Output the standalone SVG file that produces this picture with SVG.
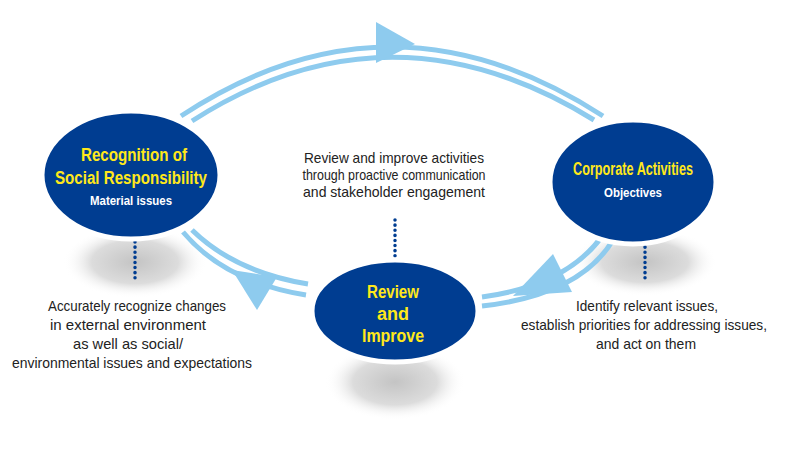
<svg xmlns="http://www.w3.org/2000/svg" width="789" height="455" viewBox="0 0 789 455">
<defs>
<radialGradient id="sh" cx="0.5" cy="0.5" r="0.5"><stop offset="0" stop-color="#c4c4c4"/><stop offset="0.6" stop-color="#dcdcdc"/><stop offset="1" stop-color="#fff" stop-opacity="0"/></radialGradient>
</defs>
<style>
.arc{fill:none;stroke:#8ecbee;stroke-width:5}
.head{fill:#8ecbee}
.node{fill:#003d91;stroke:#fff;stroke-width:5}
.t{font-family:"Liberation Sans",sans-serif;font-weight:bold;fill:#ffe81a;text-anchor:middle}
.s{font-family:"Liberation Sans",sans-serif;font-weight:bold;fill:#fff;text-anchor:middle;font-size:13px}
.d{font-family:"Liberation Sans",sans-serif;fill:#222;text-anchor:middle;font-size:15px}
.dot{stroke:#003d91;stroke-width:3.5;stroke-dasharray:0.1 5;stroke-linecap:round;fill:none}
</style>
<g id="shadows">
<ellipse cx="135" cy="262" rx="72" ry="36" fill="url(#sh)"/>
<ellipse cx="645" cy="262" rx="72" ry="34" fill="url(#sh)"/>
<ellipse cx="395" cy="382" rx="70" ry="38" fill="url(#sh)"/>
</g>
<g id="connectors">
<path class="arc" d="M181,116 Q390,-22 603,116"/>
<path class="arc" d="M192,121 Q390,-6 594,120"/>
<path class="head" d="M376,22 L415,44 L376,63 Z"/>
<path class="arc" d="M183,232 Q225,282 306,295"/>
<path class="arc" d="M192,230 Q235,272 308,284"/>
<path class="head" d="M232,270 L277,277 L257,310 Z"/>
<path class="arc" d="M482,297 Q570,285 605,232"/>
<path class="arc" d="M482,306 Q580,295 613,240"/>
<path class="head" d="M513,296 L553,254 L572,292 Z"/>
<path class="dot" d="M135,242 V282"/>
<path class="dot" d="M395,220 V256"/>
<path class="dot" d="M645,242 V282"/>
</g>
<g id="n1">
<ellipse class="node" cx="131" cy="175" rx="89" ry="64"/>
<text class="t" x="134" y="161" font-size="18" textLength="106" lengthAdjust="spacingAndGlyphs">Recognition of</text>
<text class="t" x="131" y="184" font-size="18" textLength="152" lengthAdjust="spacingAndGlyphs">Social Responsibility</text>
<text class="s" x="131" y="205" textLength="82" lengthAdjust="spacingAndGlyphs">Material issues</text>
</g>
<g id="n2">
<ellipse class="node" cx="633" cy="182" rx="83" ry="62"/>
<text class="t" x="633" y="175" font-size="18" textLength="120" lengthAdjust="spacingAndGlyphs">Corporate Activities</text>
<text class="s" x="633" y="197" textLength="58" lengthAdjust="spacingAndGlyphs">Objectives</text>
</g>
<g id="n3">
<ellipse class="node" cx="395" cy="311" rx="83" ry="51"/>
<text class="t" x="393" y="298" font-size="18" textLength="52" lengthAdjust="spacingAndGlyphs">Review</text>
<text class="t" x="393" y="320" font-size="18" textLength="32" lengthAdjust="spacingAndGlyphs">and</text>
<text class="t" x="393" y="342" font-size="18" textLength="62" lengthAdjust="spacingAndGlyphs">Improve</text>
</g>
<g id="labels">
<text class="d" x="394" y="163" textLength="180" lengthAdjust="spacingAndGlyphs">Review and improve activities</text>
<text class="d" x="394" y="180" textLength="183" lengthAdjust="spacingAndGlyphs">through proactive communication</text>
<text class="d" x="394" y="197" textLength="182" lengthAdjust="spacingAndGlyphs">and stakeholder engagement</text>
<text class="d" x="137" y="311" textLength="178" lengthAdjust="spacingAndGlyphs">Accurately recognize changes</text>
<text class="d" x="128" y="330" textLength="156" lengthAdjust="spacingAndGlyphs">in external environment</text>
<text class="d" x="128" y="349" textLength="110" lengthAdjust="spacingAndGlyphs">as well as social/</text>
<text class="d" x="132" y="368" textLength="240" lengthAdjust="spacingAndGlyphs">environmental issues and expectations</text>
<text class="d" x="647" y="311" textLength="142" lengthAdjust="spacingAndGlyphs">Identify relevant issues,</text>
<text class="d" x="644" y="330" textLength="246" lengthAdjust="spacingAndGlyphs">establish priorities for addressing issues,</text>
<text class="d" x="646" y="349" textLength="100" lengthAdjust="spacingAndGlyphs">and act on them</text>
</g>
</svg>
